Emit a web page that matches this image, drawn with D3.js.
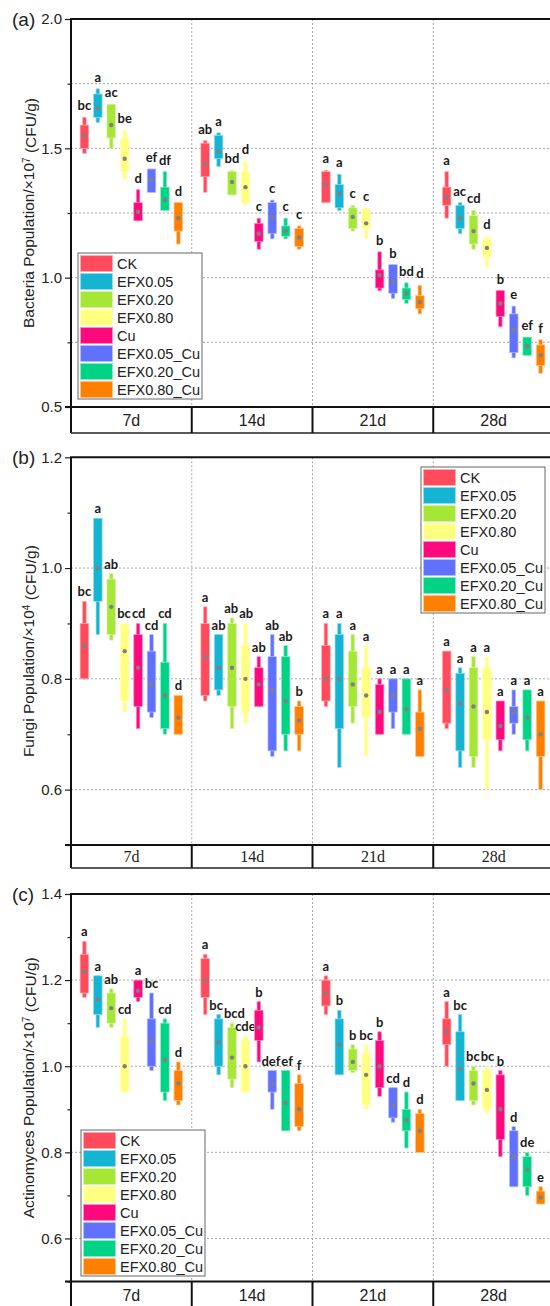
<!DOCTYPE html>
<html>
<head>
<meta charset="utf-8">
<script src="https://cdn.jsdelivr.net/npm/d3@7"></script>
<style>
  body { margin: 0; background: #fff; }
  svg { display: block; }
</style>
</head>
<body>
<div id="chart"></div>
<script>
const days = ["7d", "14d", "21d", "28d"];
const treatments = ["CK", "EFX0.05", "EFX0.20", "EFX0.80", "Cu", "EFX0.05_Cu", "EFX0.20_Cu", "EFX0.80_Cu"];
const colors = ["#ff4b5c", "#14b4d2", "#a6e636", "#ffff80", "#ff0a7e", "#6070ff", "#00d286", "#ff8000"];

// each box: [min, q1, mean, q3, max]
const bacteriaBoxes = [
  [[1.48,1.50,1.55,1.59,1.62],[1.60,1.62,1.655,1.71,1.73],[1.50,1.54,1.59,1.67,1.67],[1.38,1.41,1.46,1.54,1.57],
   [1.22,1.22,1.255,1.29,1.34],[1.33,1.33,1.38,1.42,1.42],[1.26,1.26,1.30,1.35,1.41],[1.13,1.18,1.23,1.29,1.29]],
  [[1.33,1.39,1.44,1.52,1.53],[1.43,1.46,1.49,1.55,1.56],[1.32,1.32,1.37,1.41,1.415],[1.28,1.29,1.35,1.41,1.45],
   [1.11,1.14,1.17,1.21,1.23],[1.15,1.17,1.235,1.29,1.30],[1.15,1.16,1.18,1.20,1.23],[1.11,1.12,1.155,1.19,1.20]],
  [[1.29,1.29,1.36,1.41,1.415],[1.26,1.27,1.325,1.36,1.40],[1.18,1.19,1.235,1.27,1.28],[1.15,1.19,1.21,1.265,1.27],
   [0.95,0.96,1.01,1.03,1.10],[0.92,0.94,0.985,1.05,1.05],[0.90,0.915,0.94,0.96,0.98],[0.86,0.88,0.905,0.93,0.97]],
  [[1.23,1.28,1.31,1.35,1.41],[1.17,1.19,1.23,1.28,1.29],[1.11,1.13,1.18,1.24,1.26],[1.04,1.08,1.115,1.15,1.16],
   [0.81,0.85,0.90,0.95,0.95],[0.69,0.71,0.80,0.86,0.89],[0.70,0.70,0.735,0.77,0.77],[0.63,0.66,0.70,0.74,0.76]]
];
const bacteriaLetters = [
  ["bc","a","ac","be","d","ef","df","d"],
  ["ab","a","bd","d","c","c","c","c"],
  ["a","a","c","c","b","b","bd","d"],
  ["a","ac","cd","d","b","e","ef","f"]
];

const fungiBoxes = [
  [[0.80,0.80,0.86,0.90,0.94],[0.88,0.94,1.00,1.09,1.09],[0.87,0.88,0.93,0.98,0.99],[0.74,0.76,0.85,0.90,0.90],
   [0.71,0.75,0.82,0.88,0.90],[0.73,0.74,0.79,0.85,0.88],[0.70,0.71,0.77,0.83,0.90],[0.70,0.70,0.73,0.77,0.77]],
  [[0.76,0.77,0.84,0.90,0.93],[0.77,0.78,0.82,0.88,0.88],[0.71,0.75,0.82,0.90,0.91],[0.72,0.74,0.80,0.86,0.90],
   [0.75,0.75,0.79,0.82,0.84],[0.66,0.67,0.78,0.84,0.88],[0.67,0.70,0.76,0.84,0.86],[0.67,0.70,0.725,0.75,0.76]],
  [[0.75,0.76,0.80,0.86,0.90],[0.64,0.71,0.80,0.88,0.90],[0.72,0.75,0.79,0.85,0.88],[0.66,0.73,0.77,0.82,0.86],
   [0.70,0.70,0.74,0.79,0.80],[0.71,0.74,0.77,0.80,0.80],[0.70,0.70,0.745,0.80,0.80],[0.66,0.66,0.71,0.74,0.78]],
  [[0.71,0.72,0.78,0.85,0.85],[0.64,0.67,0.755,0.81,0.82],[0.64,0.66,0.75,0.82,0.84],[0.60,0.69,0.74,0.82,0.84],
   [0.67,0.69,0.715,0.76,0.76],[0.70,0.72,0.74,0.75,0.78],[0.67,0.69,0.73,0.78,0.78],[0.60,0.66,0.70,0.76,0.76]]
];
const fungiLetters = [
  ["bc","a","ab","bc","cd","cd","cd","d"],
  ["a","ab","ab","ab","ab","ab","ab","b"],
  ["a","a","a","a","a","a","a","a"],
  ["a","a","a","a","a","a","a","a"]
];

const actinoBoxes = [
  [[1.16,1.17,1.22,1.26,1.29],[1.09,1.12,1.155,1.21,1.21],[1.09,1.10,1.135,1.17,1.18],[0.94,0.94,1.00,1.07,1.11],
   [1.15,1.16,1.175,1.20,1.20],[0.99,1.00,1.06,1.11,1.17],[0.92,0.94,1.015,1.10,1.11],[0.91,0.92,0.96,0.99,1.01]],
  [[1.12,1.16,1.20,1.25,1.26],[0.98,1.00,1.055,1.11,1.12],[0.95,0.97,1.02,1.09,1.10],[0.94,0.94,1.00,1.06,1.07],
   [1.01,1.06,1.09,1.13,1.15],[0.90,0.94,0.96,0.99,0.99],[0.85,0.85,0.915,0.99,0.99],[0.85,0.86,0.90,0.96,0.98]],
  [[1.12,1.14,1.17,1.20,1.21],[0.98,0.98,1.05,1.11,1.13],[0.985,0.99,1.01,1.04,1.05],[0.90,0.91,0.98,1.03,1.05],
   [0.93,0.95,1.00,1.06,1.08],[0.87,0.88,0.91,0.95,0.95],[0.81,0.85,0.875,0.90,0.94],[0.80,0.80,0.85,0.89,0.90]],
  [[1.00,1.05,1.08,1.11,1.15],[0.92,0.92,0.995,1.08,1.12],[0.91,0.92,0.96,0.99,1.00],[0.89,0.90,0.945,0.99,1.00],
   [0.79,0.83,0.90,0.98,0.99],[0.72,0.72,0.79,0.85,0.86],[0.70,0.72,0.76,0.79,0.80],[0.68,0.68,0.695,0.71,0.72]]
];
const actinoLetters = [
  ["a","a","ab","cd","a","bc","cd","d"],
  ["a","bc","bcd","cde","b","def","ef","f"],
  ["a","b","b","bc","b","cd","d","d"],
  ["a","bc","bc","bc","b","d","de","e"]
];

const bacteriaTicks = [0.5, 1.0, 1.5, 2.0];
const bacteriaMinor = [0.75, 1.25, 1.75];
const fungiTicks = [0.6, 0.8, 1.0, 1.2];
const fungiMinor = [0.5, 0.7, 0.9, 1.1];
const actinoTicks = [0.6, 0.8, 1.0, 1.2, 1.4];
const actinoMinor = [0.5, 0.7, 0.9, 1.1, 1.3];

const W = 550, H = 1306;
const left = 71, right = 554;
const sans = "'Liberation Sans', Arial, sans-serif";

const panels = [
  { tag: "(a)", top: 19, bottom: 407, bandH: 26, domain: [0.5, 2.0], ticks: bacteriaTicks, minor: bacteriaMinor,
    grid: [0.75, 1.0, 1.25, 1.5, 1.75], title: ["Bacteria Population/×10", "7", " (CFU/g)"],
    boxes: bacteriaBoxes, letters: bacteriaLetters, legend: [78, 253], letterGap: 7, bandFont: sans, bandSize: 16 },
  { tag: "(b)", top: 457.3, bottom: 845, bandH: 23, domain: [0.5, 1.2], ticks: fungiTicks, minor: fungiMinor,
    grid: [0.6, 0.8, 1.0], title: ["Fungi Population/×10", "4", " (CFU/g)"],
    boxes: fungiBoxes, letters: fungiLetters, legend: [421, 467], letterGap: 5,
    bandFont: "'Liberation Serif', 'Times New Roman', serif", bandSize: 16 },
  { tag: "(c)", top: 894, bottom: 1281.5, bandH: 27, domain: [0.5, 1.4], ticks: actinoTicks, minor: actinoMinor,
    grid: [0.6, 0.8, 1.0, 1.2], title: ["Actinomyces Population/×10", "7", " (CFU/g)"],
    boxes: actinoBoxes, letters: actinoLetters, legend: [81, 1130], letterGap: 5, bandFont: sans, bandSize: 16 }
];

const svg = d3.select("#chart").append("svg")
  .attr("width", W).attr("height", H);

const x = d3.scaleBand().domain(days).range([left, right]);
const xi = d3.scalePoint().domain(treatments).range([0, x.bandwidth()]).padding(1);

panels.forEach(p => {
  const y = d3.scaleLinear().domain(p.domain).range([p.bottom, p.top]);
  const g = svg.append("g");

  // gridlines
  g.selectAll(".hgrid").data(p.grid).enter().append("line")
    .attr("x1", left).attr("x2", right)
    .attr("y1", d => y(d)).attr("y2", d => y(d))
    .attr("stroke", "#a8a8a8").attr("stroke-width", 1).attr("stroke-dasharray", "2,2");
  g.selectAll(".vgrid").data(days.slice(1)).enter().append("line")
    .attr("x1", d => x(d)).attr("x2", d => x(d))
    .attr("y1", p.top).attr("y2", p.bottom)
    .attr("stroke", "#a8a8a8").attr("stroke-width", 1).attr("stroke-dasharray", "2,2");

  // boxes
  p.boxes.forEach((dayBoxes, di) => {
    const labels = [];
    dayBoxes.forEach((b, ti) => {
      const cx = x(days[di]) + xi(treatments[ti]);
      const c = colors[ti];
      const edge = d3.interpolateRgb(c, "#ffffff")(0.55);
      g.append("rect")
        .attr("x", cx - 1.8).attr("width", 3.6)
        .attr("y", y(b[4])).attr("height", Math.max(0.5, y(b[0]) - y(b[4])))
        .attr("fill", c).attr("stroke", edge).attr("stroke-width", 0.7);
      g.append("rect")
        .attr("x", cx - 4.3).attr("width", 8.6)
        .attr("y", y(b[3])).attr("height", Math.max(0.5, y(b[1]) - y(b[3])))
        .attr("fill", c).attr("stroke", edge).attr("stroke-width", 0.7);
      g.append("circle")
        .attr("cx", cx).attr("cy", y(b[2])).attr("r", 2.2)
        .attr("fill", "#808080");
      const t = g.append("text")
        .attr("x", cx).attr("y", y(b[4]) - p.letterGap)
        .attr("text-anchor", "middle")
        .style("font-family", "Lato, 'Open Sans', sans-serif")
        .style("font-weight", "bold").style("font-size", "13px")
        .attr("fill", "#1a1a1a")
        .text(p.letters[di][ti]);
      labels.push({ t, cx, y: y(b[4]) - p.letterGap, w: t.node().getComputedTextLength() });
    });
    // nudge neighbouring letters apart where they would overlap
    for (let i = 1; i < labels.length; i++) {
      const a = labels[i - 1], b = labels[i];
      if (Math.abs(a.y - b.y) > 11) continue;
      const overlap = (a.cx + a.w / 2 + 1) - (b.cx - b.w / 2);
      if (overlap > 0) {
        a.cx -= overlap / 2; b.cx += overlap / 2;
        a.t.attr("x", a.cx); b.t.attr("x", b.cx);
      }
    }
  });

  // axes
  const minorAxis = d3.axisLeft(y).tickValues(p.minor).tickSize(3.5).tickFormat("");
  const majorAxis = d3.axisLeft(y).tickValues(p.ticks).tickSize(6).tickPadding(3).tickFormat(d3.format(".1f"));
  const ga = g.append("g").attr("transform", `translate(${left},0)`).call(minorAxis);
  ga.select(".domain").remove();
  ga.selectAll("line").attr("stroke", "#222").attr("stroke-width", 1.2);
  const gm = g.append("g").attr("transform", `translate(${left},0)`).call(majorAxis);
  gm.select(".domain").remove();
  gm.selectAll("line").attr("stroke", "#222").attr("stroke-width", 1.2);
  gm.selectAll("text").style("font-family", sans).style("font-size", "15px").attr("fill", "#222");

  // frame: top line, left axis, band
  const bandBottom = p.bottom + p.bandH;
  g.append("line").attr("x1", left - 1).attr("x2", right).attr("y1", p.top).attr("y2", p.top)
    .attr("stroke", "#111").attr("stroke-width", 2);
  g.append("line").attr("x1", left).attr("x2", left).attr("y1", p.top).attr("y2", bandBottom)
    .attr("stroke", "#111").attr("stroke-width", 2);
  g.append("line").attr("x1", left - 6).attr("x2", right).attr("y1", p.bottom).attr("y2", p.bottom)
    .attr("stroke", "#111").attr("stroke-width", 2);
  g.append("line").attr("x1", left).attr("x2", right).attr("y1", bandBottom).attr("y2", bandBottom)
    .attr("stroke", "#222").attr("stroke-width", 1.5);
  g.selectAll(".div").data(days.slice(1)).enter().append("line")
    .attr("x1", d => x(d)).attr("x2", d => x(d))
    .attr("y1", p.bottom).attr("y2", bandBottom)
    .attr("stroke", "#111").attr("stroke-width", 2);
  g.selectAll(".dayLabel").data(days).enter().append("text")
    .attr("x", d => x(d) + x.bandwidth() / 2)
    .attr("y", p.bottom + p.bandH / 2)
    .attr("dy", "0.36em")
    .attr("text-anchor", "middle")
    .style("font-family", p.bandFont).style("font-size", p.bandSize + "px")
    .attr("fill", "#222")
    .text(d => d);

  // panel tag
  g.append("text").attr("x", 12).attr("y", p.top + 7)
    .style("font-family", sans).style("font-size", "19px").attr("fill", "#222")
    .text(p.tag);

  // y title
  const tt = g.append("text")
    .attr("transform", `translate(34,${(p.top + p.bottom) / 2}) rotate(-90)`)
    .attr("text-anchor", "middle")
    .style("font-family", sans).style("font-size", "15.5px").attr("fill", "#222");
  tt.append("tspan").text(p.title[0]);
  tt.append("tspan").attr("dy", "-0.45em").style("font-size", "10px").text(p.title[1]);
  tt.append("tspan").attr("dy", "0.45em").text(p.title[2]);

  // legend
  const [lx, ly] = p.legend;
  const lg = g.append("g").attr("transform", `translate(${lx},${ly})`);
  lg.append("rect").attr("width", 124).attr("height", 146)
    .attr("fill", "#fff").attr("stroke", "#666").attr("stroke-width", 1);
  treatments.forEach((t, i) => {
    lg.append("rect")
      .attr("x", 2.5).attr("y", 2.5 + i * 18).attr("width", 32).attr("height", 16)
      .attr("fill", colors[i])
      .attr("stroke", d3.interpolateRgb(colors[i], "#ffffff")(0.55)).attr("stroke-width", 0.7);
    lg.append("text")
      .attr("x", 39).attr("y", 10.5 + i * 18).attr("dy", "0.36em")
      .style("font-family", sans).style("font-size", "14.5px").attr("fill", "#222")
      .text(t);
  });
});
</script>
</body>
</html>
